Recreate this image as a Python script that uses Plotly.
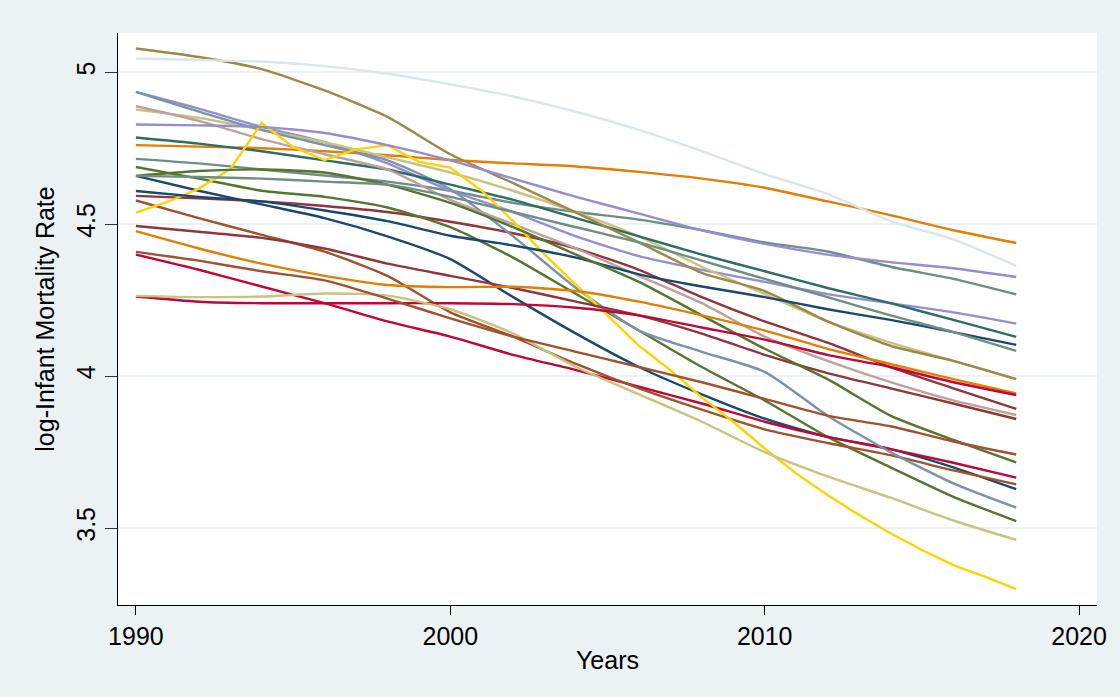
import plotly.graph_objects as go

# ---------------- data ----------------
years = [1990, 1992, 1994, 1996, 1998, 2000, 2002, 2004, 2006, 2008, 2010, 2012, 2014, 2016, 2018]
gold_years = list(range(1990, 2019))

navy_a      = [4.659, 4.61, 4.565, 4.52, 4.46, 4.385, 4.26, 4.14, 4.03, 3.94, 3.86, 3.80, 3.76, 3.70, 3.628]
maroon_a    = [4.593, 4.585, 4.575, 4.56, 4.54, 4.508, 4.47, 4.42, 4.35, 4.26, 4.18, 4.11, 4.03, 3.96, 3.892]
green_a     = [4.688, 4.65, 4.61, 4.59, 4.555, 4.49, 4.39, 4.27, 4.15, 4.03, 3.92, 3.80, 3.70, 3.603, 3.523]
orange_a    = [4.760, 4.755, 4.75, 4.74, 4.727, 4.711, 4.70, 4.69, 4.672, 4.65, 4.62, 4.575, 4.53, 4.48, 4.438]
teal_a      = [4.715, 4.70, 4.68, 4.66, 4.64, 4.61, 4.57, 4.54, 4.515, 4.48, 4.44, 4.41, 4.36, 4.32, 4.269]
cranberry_a = [4.400, 4.35, 4.295, 4.24, 4.18, 4.13, 4.07, 4.02, 3.965, 3.91, 3.85, 3.80, 3.76, 3.715, 3.666]
lavender_a  = [4.935, 4.88, 4.82, 4.77, 4.70, 4.61, 4.54, 4.46, 4.395, 4.35, 4.31, 4.27, 4.24, 4.21, 4.173]
khaki_a     = [4.877, 4.85, 4.81, 4.77, 4.72, 4.67, 4.61, 4.54, 4.46, 4.36, 4.27, 4.18, 4.11, 4.05, 3.99]
sienna_a    = [4.578, 4.52, 4.465, 4.41, 4.33, 4.21, 4.13, 4.04, 3.96, 3.89, 3.825, 3.78, 3.74, 3.69, 3.644]
emidblue    = [4.935, 4.87, 4.81, 4.76, 4.71, 4.615, 4.46, 4.29, 4.15, 4.08, 4.014, 3.87, 3.75, 3.647, 3.567]
emerald     = [4.785, 4.765, 4.74, 4.71, 4.68, 4.63, 4.58, 4.52, 4.46, 4.40, 4.345, 4.29, 4.24, 4.185, 4.129]
brown       = [5.078, 5.05, 5.01, 4.94, 4.853, 4.73, 4.635, 4.538, 4.44, 4.34, 4.28, 4.18, 4.10, 4.05, 3.99]
erose       = [4.888, 4.84, 4.78, 4.73, 4.68, 4.58, 4.50, 4.42, 4.33, 4.24, 4.13, 4.05, 3.98, 3.92, 3.872]
bluishgray  = [5.045, 5.04, 5.035, 5.02, 4.995, 4.96, 4.92, 4.87, 4.81, 4.74, 4.665, 4.60, 4.51, 4.45, 4.363]
navy_b      = [4.609, 4.59, 4.575, 4.545, 4.51, 4.462, 4.43, 4.39, 4.335, 4.295, 4.26, 4.22, 4.185, 4.145, 4.103]
maroon_b    = [4.494, 4.475, 4.455, 4.42, 4.37, 4.33, 4.29, 4.245, 4.20, 4.14, 4.07, 4.01, 3.96, 3.91, 3.859]
green_b     = [4.659, 4.675, 4.68, 4.67, 4.63, 4.57, 4.49, 4.40, 4.31, 4.20, 4.09, 3.99, 3.87, 3.79, 3.716]
orange_b    = [4.477, 4.42, 4.37, 4.33, 4.30, 4.293, 4.294, 4.28, 4.245, 4.20, 4.15, 4.09, 4.04, 3.99, 3.943]
teal_b      = [4.659, 4.655, 4.65, 4.64, 4.63, 4.59, 4.54, 4.49, 4.44, 4.38, 4.32, 4.26, 4.20, 4.145, 4.083]
cranberry_b = [4.262, 4.245, 4.24, 4.24, 4.24, 4.24, 4.237, 4.225, 4.20, 4.16, 4.12, 4.07, 4.03, 3.98, 3.938]
lavender_b  = [4.828, 4.825, 4.82, 4.80, 4.76, 4.71, 4.65, 4.59, 4.535, 4.48, 4.435, 4.40, 4.375, 4.355, 4.326]
khaki_b     = [4.264, 4.26, 4.262, 4.272, 4.265, 4.22, 4.14, 4.03, 3.94, 3.85, 3.75, 3.67, 3.60, 3.525, 3.461]
sienna_b    = [4.409, 4.38, 4.345, 4.315, 4.255, 4.19, 4.13, 4.08, 4.03, 3.98, 3.925, 3.87, 3.835, 3.785, 3.742]
gold        = [4.538, 4.573, 4.617, 4.681, 4.833, 4.754, 4.711, 4.746, 4.760, 4.705,
               4.686, 4.61, 4.51, 4.40, 4.30, 4.20, 4.10, 4.02, 3.93, 3.85,
               3.762, 3.680, 3.609, 3.543, 3.483, 3.428, 3.378, 3.34, 3.299]

x_ticks = [1990, 2000, 2010, 2020]
y_ticks = [3.5, 4, 4.5, 5]
y_tick_labels = ["3.5", "4", "4.5", "5"]

# ---------------- styling ----------------
C = {
    "navy": "#1a476f", "maroon": "#90353b", "forest_green": "#55752f", "dkorange": "#e37e00",
    "teal": "#6e8e84", "cranberry": "#c10534", "lavender": "#938dd2", "khaki": "#cac27e",
    "sienna": "#a0522d", "emidblue": "#7b92a8", "emerald": "#2d6d66", "brown": "#9c8847",
    "erose": "#bfa19c", "gold": "#ffd200", "bluishgray": "#d9e6eb",
}

series = [
    (navy_a, "navy"), (maroon_a, "maroon"), (green_a, "forest_green"), (orange_a, "dkorange"),
    (teal_a, "teal"), (cranberry_a, "cranberry"), (lavender_a, "lavender"), (khaki_a, "khaki"),
    (sienna_a, "sienna"), (emidblue, "emidblue"), (emerald, "emerald"), (brown, "brown"),
    (erose, "erose"), (None, "gold"), (bluishgray, "bluishgray"),
    (navy_b, "navy"), (maroon_b, "maroon"), (green_b, "forest_green"), (orange_b, "dkorange"),
    (teal_b, "teal"), (cranberry_b, "cranberry"), (lavender_b, "lavender"), (khaki_b, "khaki"),
    (sienna_b, "sienna"),
]

fig = go.Figure()
for vals, cname in series:
    if vals is None:
        fig.add_trace(go.Scatter(x=gold_years, y=gold, mode="lines",
                                 line=dict(color=C[cname], width=2.4, shape="linear"),
                                 showlegend=False, hoverinfo="skip"))
    else:
        fig.add_trace(go.Scatter(x=years, y=vals, mode="lines",
                                 line=dict(color=C[cname], width=2.4, shape="spline", smoothing=0.6),
                                 showlegend=False, hoverinfo="skip"))

bg = "#eaf2f3"
fig.update_layout(
    width=1120, height=697,
    paper_bgcolor=bg, plot_bgcolor="white",
    margin=dict(l=118, r=23, t=33, b=92),
    font=dict(family="Liberation Sans, Arial, sans-serif", color="black"),
    showlegend=False,
)
fig.update_xaxes(
    range=[1989.43, 2020.57], tickmode="array", tickvals=x_ticks,
    ticks="outside", ticklen=9, tickwidth=1, tickcolor="black",
    showline=True, linecolor="black", linewidth=1.3, showgrid=False, zeroline=False,
    tickfont=dict(size=25), title=dict(text="Years", font=dict(size=25), standoff=2),
)
fig.update_yaxes(
    range=[3.247, 5.129], tickmode="array", tickvals=y_ticks, ticktext=y_tick_labels,
    ticks="outside", ticklen=12, tickwidth=1.2, tickcolor="#333333", tickangle=-90,
    showline=True, linecolor="black", linewidth=1.3, showgrid=True, gridcolor=bg, gridwidth=1.6,
    zeroline=False, tickfont=dict(size=25),
    title=dict(text="log-Infant Mortality Rate", font=dict(size=25), standoff=10),
)

fig.write_html(
    "out.html",
    config={"displayModeBar": False},
    post_script="document.body.style.margin='0';document.body.style.background='%s';" % bg,
)
